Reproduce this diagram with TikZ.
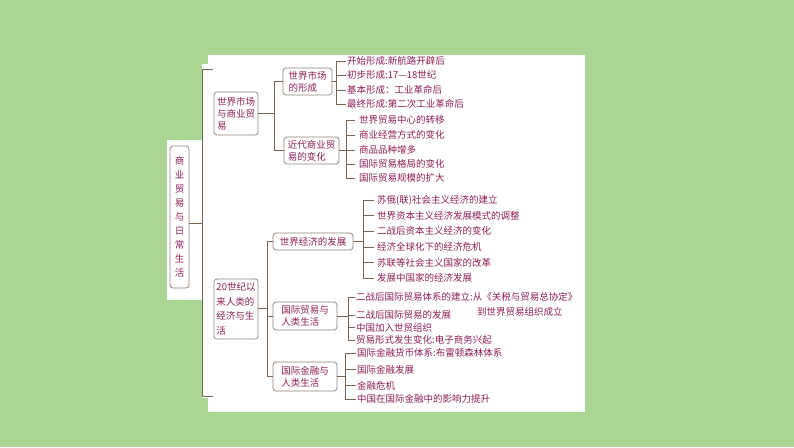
\documentclass[tikz,border=0pt]{standalone}
\usepackage{fontspec}
\setmainfont{Noto Sans CJK SC}
\definecolor{bg}{RGB}{170,213,146}
\definecolor{txt}{RGB}{140,30,85}
\definecolor{ln}{RGB}{120,100,85}
\definecolor{bx}{RGB}{150,132,120}
\begin{document}
\begin{tikzpicture}[x=1pt,y=-1pt,
  box/.style={draw=bx, line width=0.8pt, rounded corners=3pt, fill=white, inner sep=0pt, text=txt, font=\fontsize{9.5}{12}\selectfont, align=left},
  leaf/.style={anchor=west, inner sep=0pt, text=txt, font=\fontsize{9.5}{11}\selectfont},
  conn/.style={draw=ln, line width=0.7pt}]
\fill[bg] (0,0) rectangle (794,447);
\useasboundingbox (0,0) rectangle (794,447);
\fill[white] (208,55) rectangle (585,412);
\fill[white] (202,64) rectangle (208,398);
\fill[white] (167,140) rectangle (202,300);

% root
\node[box, minimum width=19pt, minimum height=142pt, align=center, font=\fontsize{9.5}{14}\selectfont] (root) at (179.5,217) {商\\业\\贸\\易\\与\\日\\常\\生\\活};
\coordinate (bt) at (202,69);
\coordinate (bb) at (202,396);
\draw[conn, line width=1pt] ([xshift=11pt]bt) -- (bt) -- (bb) -- ([xshift=11pt]bb);
\draw[conn] ([yshift=-6pt]root.east) -- ([yshift=-6pt]root.east -| bt);

% level 1
\node[box, minimum width=44pt, minimum height=43pt] (A) at (236,113.5) {世界市场\\与商业贸\\易};
\node[box, minimum width=44pt, minimum height=60pt, font=\fontsize{9.5}{14.5}\selectfont] (B) at (236,309) {20世纪以\\来人类的\\经济与生\\活};

% level 2 under A
\node[box, minimum width=49pt, minimum height=27pt] (A1) at (307.5,81.5) {世界市场\\的形成};
\node[box, minimum width=55pt, minimum height=27pt] (A2) at (311.5,150.5) {近代商业贸\\易的变化};
\coordinate (ja) at (274,0);
\draw[conn] (A.east) -- (A.east -| ja);
\draw[conn] (A1.west) -| (ja |- A2.west) -- (A2.west);

% level 2 under B
\node[box, minimum width=80pt, minimum height=17pt] (B1) at (313,241.5) {世界经济的发展};
\node[box, minimum width=64pt, minimum height=28pt] (B2) at (305,316) {国际贸易与\\人类生活};
\node[box, minimum width=64pt, minimum height=29pt] (B3) at (305,376.5) {国际金融与\\人类生活};
\coordinate (jb) at (267,0);
\draw[conn] ([yshift=1pt]B.east) -- ([yshift=1pt]B.east -| jb);
\draw[conn] (B1.west) -| (jb |- B3.west) -- (B3.west);
\draw[conn] (B2.west -| jb) -- (B2.west);

% leaves A1
\node[leaf] (a11) at (347,61) {开始形成:新航路开辟后};
\node[leaf] (a12) at (347,75) {初步形成:17—18世纪};
\node[leaf] (a13) at (347,90) {基本形成：工业革命后};
\node[leaf] (a14) at (347,104) {最终形成:第二次工业革命后};
\coordinate (ka) at (336,0);
\draw[conn] (A1.east) -- (A1.east -| ka);
\draw[conn] (a11.west -| ka) -- (a14.west -| ka);
\foreach \n in {a11,a12,a13,a14} \draw[conn] (\n.west -| ka) -- ([xshift=-1.5pt]\n.west);

% leaves A2
\node[leaf] (a21) at (359,120) {世界贸易中心的转移};
\node[leaf] (a22) at (359,135) {商业经营方式的变化};
\node[leaf] (a23) at (359,150) {商品品种增多};
\node[leaf] (a24) at (359,164) {国际贸易格局的变化};
\node[leaf] (a25) at (359,178) {国际贸易规模的扩大};
\coordinate (kb) at (346,0);
\draw[conn] (A2.east) -- (A2.east -| kb);
\draw[conn] (a21.west -| kb) -- (a25.west -| kb);
\foreach \n in {a21,a22,a23,a24,a25} \draw[conn] (\n.west -| kb) -- ([xshift=-4pt]\n.west);

% leaves B1
\node[leaf] (b11) at (377,200) {苏俄(联)社会主义经济的建立};
\node[leaf] (b12) at (377,215.5) {世界资本主义经济发展模式的调整};
\node[leaf] (b13) at (377,231) {二战后资本主义经济的变化};
\node[leaf] (b14) at (377,247) {经济全球化下的经济危机};
\node[leaf] (b15) at (377,262.5) {苏联等社会主义国家的改革};
\node[leaf] (b16) at (377,278) {发展中国家的经济发展};
\coordinate (kc) at (363,0);
\draw[conn] (B1.east) -- (B1.east -| kc);
\draw[conn] (b11.west -| kc) -- (b16.west -| kc);
\foreach \n in {b11,b12,b13,b14,b15,b16} \draw[conn] (\n.west -| kc) -- ([xshift=-3pt]\n.west);

% leaves B2
\node[leaf] (b21) at (356,297) {二战后国际贸易体系的建立:从《关税与贸易总协定》};
\node[leaf] (b21b) at (477,312) {到世界贸易组织成立};
\node[leaf] (b22) at (356,315) {二战后国际贸易的发展};
\node[leaf] (b23) at (356,327.5) {中国加入世贸组织};
\node[leaf] (b24) at (356,340) {贸易形式发生变化:电子商务兴起};
\coordinate (kd) at (348,0);
\draw[conn] (B2.east) -- (B2.east -| kd);
\draw[conn] (b21.west -| kd) -- (b24.west -| kd);
\foreach \n in {b21,b22,b23,b24} \draw[conn] (\n.west -| kd) -- ([xshift=-1.5pt]\n.west);

% leaves B3
\node[leaf] (b31) at (357,353) {国际金融货币体系:布雷顿森林体系};
\node[leaf] (b32) at (357,369.5) {国际金融发展};
\node[leaf] (b33) at (357,385.5) {金融危机};
\node[leaf] (b34) at (357,399) {中国在国际金融中的影响力提升};
\coordinate (ke) at (345,0);
\draw[conn] (B3.east) -- (B3.east -| ke);
\draw[conn] (b31.west -| ke) -- (b34.west -| ke);
\foreach \n in {b31,b32,b33,b34} \draw[conn] (\n.west -| ke) -- ([xshift=-1.5pt]\n.west);
\end{tikzpicture}
\end{document}
